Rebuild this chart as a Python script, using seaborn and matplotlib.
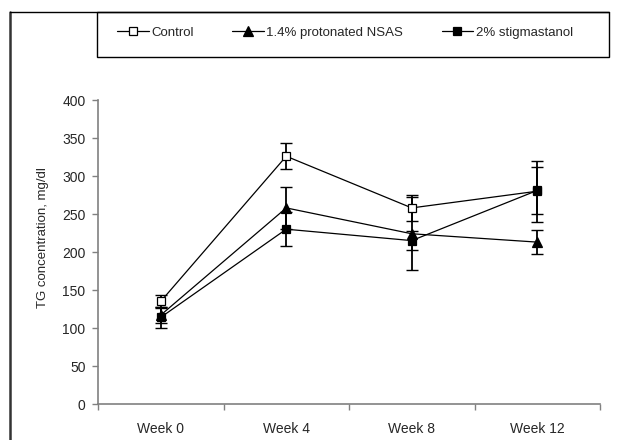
import matplotlib

matplotlib.use("Agg")
import matplotlib.pyplot as plt
import numpy as np
import pandas as pd
import seaborn as sns
from matplotlib.lines import Line2D
from matplotlib.patches import Rectangle

weeks = ["Week 0", "Week 4", "Week 8", "Week 12"]
groups = ["Control", "1.4% protonated NSAS", "2% stigmastanol"]
control = [135, 326, 258, 280]
control_err = [9, 17, 17, 40]
nsas = [117, 258, 224, 213]
nsas_err = [10, 28, 48, 16]
stig = [114, 230, 215, 281]
stig_err = [14, 22, 13, 31]

markers = {"Control": "s", "1.4% protonated NSAS": "^", "2% stigmastanol": "s"}
faces = {"Control": "white", "1.4% protonated NSAS": "black", "2% stigmastanol": "black"}
sizes = {"Control": 6, "1.4% protonated NSAS": 7, "2% stigmastanol": 6}

df = pd.DataFrame(
    {
        "week": weeks * 3,
        "group": np.repeat(groups, len(weeks)),
        "tg": control + nsas + stig,
        "err": control_err + nsas_err + stig_err,
    }
)

sns.set_theme(style="white")
plt.rcParams["font.family"] = ["Liberation Sans", "DejaVu Sans"]
plt.rcParams["font.size"] = 9.5

fig = plt.figure(figsize=(6.29, 4.40), dpi=100)
ax = fig.add_axes([98 / 629, 36 / 440, 502 / 629, 304 / 440])

# error bars first so the markers sit on top
for g in groups:
    sub = df[df["group"] == g]
    ax.errorbar(
        np.arange(len(weeks)),
        sub["tg"],
        yerr=sub["err"],
        fmt="none",
        ecolor="black",
        elinewidth=1.3,
        capsize=4.5,
        capthick=1.0,
        zorder=2,
    )

for g in groups:
    sub = df[df["group"] == g]
    sns.lineplot(
        data=sub,
        x="week",
        y="tg",
        ax=ax,
        color="black",
        linewidth=0.9,
        marker=markers[g],
        markersize=sizes[g],
        markerfacecolor=faces[g],
        markeredgecolor="black",
        markeredgewidth=0.9,
        zorder=3,
        legend=False,
    )

ax.set_xlim(-0.5, len(weeks) - 0.5)
ax.set_ylim(0, 400)
ax.set_yticks(range(0, 401, 50))
ax.set_xticks(np.arange(-0.5, len(weeks), 1.0))
ax.set_xticklabels([])
ax.set_xticks(np.arange(len(weeks)), minor=True)
ax.set_xticklabels(weeks, minor=True)
ax.tick_params(axis="x", which="major", direction="out", length=4, width=1, color="#808080", bottom=True)
ax.tick_params(axis="x", which="minor", length=0, pad=13, labelsize=10)
ax.tick_params(axis="y", direction="out", length=4, width=1, color="#808080", left=True, labelsize=10, pad=5)
ax.set_xlabel("")
ax.set_ylabel("TG concentration, mg/dl", fontsize=9.5)
ax.yaxis.set_label_coords(-0.098, 0.546)

for side in ["top", "right"]:
    ax.spines[side].set_visible(False)
for side in ["left", "bottom"]:
    ax.spines[side].set_color("#808080")
    ax.spines[side].set_linewidth(1.2)

# outer frame (left and top edges visible in the crop)
fig.add_artist(Line2D([10 / 629, 10 / 629], [0, 1 - 12 / 440], color="#333333", linewidth=1.8))
fig.add_artist(Line2D([10 / 629, 609 / 629], [1 - 12 / 440, 1 - 12 / 440], color="black", linewidth=1.0))

# legend box
fig.add_artist(
    Rectangle(
        (97 / 629, 1 - 57 / 440),
        512 / 629,
        45 / 440,
        transform=fig.transFigure,
        fill=False,
        edgecolor="black",
        linewidth=1.0,
    )
)
handles = [
    Line2D([], [], color="black", linewidth=0.9, marker=markers[g], markersize=sizes[g] - 0.5,
           markerfacecolor=faces[g], markeredgecolor="black", markeredgewidth=0.9)
    for g in groups
]
fig.legend(
    handles,
    groups,
    loc="center",
    bbox_to_anchor=(345 / 629, 1 - 33 / 440),
    ncol=3,
    frameon=False,
    fontsize=9.5,
    handlelength=2.4,
    handletextpad=0.2,
    columnspacing=2.9,
)

fig.savefig("out.png", dpi=100)
plt.close(fig)
